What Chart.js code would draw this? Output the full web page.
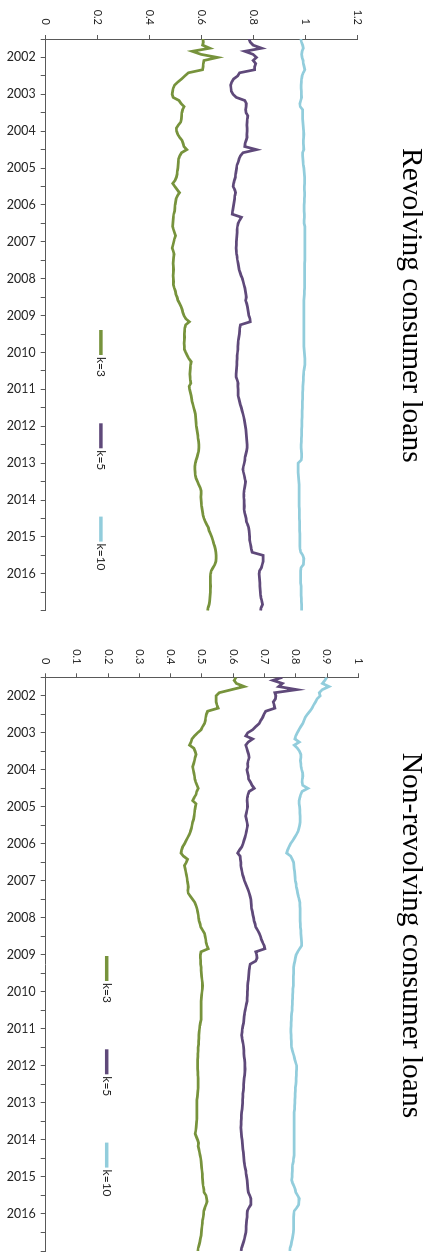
<!DOCTYPE html>
<html>
<head>
<meta charset="utf-8">
<title>Consumer loans</title>
<script src="https://cdn.jsdelivr.net/npm/chart.js@4/dist/chart.umd.min.js"></script>
<style>
  html, body { margin: 0; padding: 0; background: #fff; overflow: hidden; width: 428px; height: 1252px; }
  /* Each chart is laid out landscape, then turned a quarter turn clockwise. */
  .panel { position: absolute; left: 0; height: 428px; transform-origin: 0 0; transform: translate(428px, 0) rotate(90deg); }
  .panel canvas { display: block; }
</style>
</head>
<body>
<div class="panel" style="top:0;width:620px"><canvas id="revolving" width="620" height="428" style="width:620px;height:428px"></canvas></div>
<div class="panel" style="top:620px;width:632px"><canvas id="nonrevolving" width="632" height="428" style="width:632px;height:428px"></canvas></div>
<script>
// Monthly observations, July 2001 to January 2017 (decimal years).
const START_YEAR = 2001.5;
const N_MONTHS = 187;
const months = Array.from({ length: N_MONTHS }, (_, i) => START_YEAR + i / 12);

const seriesNames = ['k=3', 'k=5', 'k=10'];
const seriesColors = ['#77933C', '#5F497A', '#92CDDC'];

// Revolving consumer loans
const revolvingK3 = [
  0.604, 0.606, 0.603, 0.630, 0.563, 0.597, 0.660, 0.608, 0.606, 0.605,
  0.603, 0.548, 0.535, 0.522, 0.508, 0.495, 0.490, 0.488, 0.486, 0.490,
  0.512, 0.520, 0.532, 0.526, 0.523, 0.522, 0.521, 0.519, 0.510, 0.502,
  0.503, 0.507, 0.515, 0.524, 0.528, 0.531, 0.542, 0.522, 0.515, 0.511,
  0.510, 0.509, 0.508, 0.506, 0.505, 0.502, 0.497, 0.488, 0.496, 0.505,
  0.514, 0.506, 0.501, 0.499, 0.497, 0.496, 0.495, 0.492, 0.491, 0.490,
  0.489, 0.488, 0.491, 0.495, 0.499, 0.495, 0.492, 0.489, 0.486, 0.490,
  0.493, 0.492, 0.491, 0.490, 0.491, 0.492, 0.491, 0.490, 0.491, 0.492,
  0.491, 0.494, 0.498, 0.500, 0.505, 0.508, 0.514, 0.520, 0.524, 0.527,
  0.531, 0.538, 0.552, 0.538, 0.535, 0.534, 0.533, 0.534, 0.533, 0.532,
  0.533, 0.533, 0.538, 0.544, 0.550, 0.559, 0.557, 0.556, 0.555, 0.554,
  0.555, 0.556, 0.558, 0.551, 0.553, 0.556, 0.559, 0.561, 0.563, 0.566,
  0.569, 0.572, 0.575, 0.576, 0.577, 0.578, 0.579, 0.581, 0.583, 0.585,
  0.586, 0.588, 0.589, 0.589, 0.588, 0.585, 0.582, 0.578, 0.575, 0.573,
  0.573, 0.574, 0.575, 0.578, 0.583, 0.588, 0.594, 0.597, 0.597, 0.596,
  0.597, 0.598, 0.599, 0.601, 0.603, 0.605, 0.608, 0.613, 0.619, 0.625,
  0.628, 0.633, 0.638, 0.642, 0.645, 0.649, 0.652, 0.654, 0.655, 0.655,
  0.654, 0.650, 0.643, 0.636, 0.634, 0.633, 0.633, 0.633, 0.634, 0.633,
  0.633, 0.632, 0.631, 0.630, 0.628, 0.624, 0.622
];
const revolvingK5 = [
  0.781, 0.786, 0.797, 0.830, 0.765, 0.797, 0.810, 0.797, 0.807, 0.803,
  0.803, 0.745, 0.738, 0.722, 0.715, 0.711, 0.712, 0.713, 0.720, 0.732,
  0.765, 0.771, 0.770, 0.768, 0.770, 0.777, 0.775, 0.774, 0.773, 0.774,
  0.774, 0.773, 0.774, 0.770, 0.766, 0.765, 0.810, 0.758, 0.748, 0.743,
  0.740, 0.735, 0.734, 0.732, 0.730, 0.729, 0.725, 0.722, 0.720, 0.726,
  0.730, 0.727, 0.726, 0.724, 0.722, 0.720, 0.718, 0.717, 0.752, 0.745,
  0.739, 0.737, 0.736, 0.736, 0.735, 0.734, 0.733, 0.733, 0.732, 0.733,
  0.734, 0.736, 0.737, 0.739, 0.741, 0.743, 0.747, 0.751, 0.756, 0.759,
  0.762, 0.765, 0.767, 0.769, 0.771, 0.768, 0.772, 0.775, 0.777, 0.779,
  0.781, 0.785, 0.786, 0.748, 0.746, 0.745, 0.744, 0.742, 0.740, 0.739,
  0.738, 0.738, 0.737, 0.736, 0.736, 0.735, 0.735, 0.734, 0.733, 0.732,
  0.732, 0.736, 0.739, 0.738, 0.739, 0.739, 0.739, 0.742, 0.745, 0.748,
  0.752, 0.755, 0.758, 0.761, 0.763, 0.765, 0.767, 0.769, 0.770, 0.771,
  0.772, 0.773, 0.774, 0.774, 0.772, 0.769, 0.766, 0.765, 0.763, 0.760,
  0.758, 0.760, 0.763, 0.765, 0.768, 0.766, 0.764, 0.762, 0.761, 0.761,
  0.762, 0.762, 0.763, 0.762, 0.764, 0.767, 0.770, 0.771, 0.776, 0.780,
  0.782, 0.783, 0.784, 0.784, 0.786, 0.788, 0.790, 0.793, 0.835, 0.835,
  0.835, 0.832, 0.829, 0.822, 0.820, 0.821, 0.822, 0.823, 0.823, 0.824,
  0.825, 0.826, 0.828, 0.831, 0.833, 0.828, 0.826
];
const revolvingK10 = [
  0.980, 0.983, 0.987, 0.990, 0.985, 0.983, 0.985, 0.989, 0.990, 0.993,
  0.996, 0.990, 0.985, 0.983, 0.982, 0.981, 0.981, 0.982, 0.982, 0.983,
  0.980, 0.977, 0.978, 0.987, 0.987, 0.987, 0.987, 0.988, 0.989, 0.990,
  0.991, 0.992, 0.991, 0.990, 0.990, 0.991, 0.992, 0.987, 0.987, 0.988,
  0.989, 0.990, 0.992, 0.993, 0.994, 0.995, 0.995, 0.995, 0.994, 0.994,
  0.995, 0.995, 0.994, 0.994, 0.993, 0.993, 0.993, 0.994, 0.994, 0.993,
  0.993, 0.996, 0.996, 0.996, 0.996, 0.996, 0.996, 0.996, 0.996, 0.996,
  0.996, 0.996, 0.996, 0.995, 0.995, 0.995, 0.995, 0.995, 0.995, 0.995,
  0.995, 0.995, 0.994, 0.994, 0.993, 0.992, 0.992, 0.992, 0.992, 0.992,
  0.992, 0.992, 0.992, 0.992, 0.992, 0.992, 0.992, 0.992, 0.992, 0.992,
  0.992, 0.993, 0.994, 0.995, 0.996, 0.996, 0.996, 0.994, 0.992, 0.991,
  0.990, 0.990, 0.989, 0.988, 0.988, 0.987, 0.987, 0.987, 0.986, 0.986,
  0.986, 0.985, 0.985, 0.985, 0.984, 0.984, 0.984, 0.983, 0.983, 0.983,
  0.982, 0.982, 0.981, 0.981, 0.982, 0.983, 0.983, 0.982, 0.970, 0.970,
  0.970, 0.970, 0.971, 0.972, 0.973, 0.974, 0.974, 0.974, 0.974, 0.974,
  0.974, 0.974, 0.974, 0.975, 0.975, 0.975, 0.975, 0.976, 0.976, 0.976,
  0.976, 0.977, 0.977, 0.977, 0.977, 0.977, 0.978, 0.980, 0.988, 0.992,
  0.991, 0.990, 0.981, 0.980, 0.980, 0.980, 0.980, 0.980, 0.981, 0.981,
  0.981, 0.981, 0.982, 0.982, 0.983, 0.983, 0.983
];

// Non-revolving consumer loans
const nonRevolvingK3 = [
  0.609, 0.603, 0.610, 0.635, 0.595, 0.555, 0.545, 0.545, 0.545, 0.548,
  0.552, 0.518, 0.514, 0.512, 0.511, 0.508, 0.502, 0.497, 0.486, 0.476,
  0.468, 0.465, 0.460, 0.474, 0.478, 0.481, 0.478, 0.476, 0.473, 0.470,
  0.472, 0.474, 0.476, 0.477, 0.480, 0.484, 0.488, 0.483, 0.481, 0.475,
  0.470, 0.481, 0.479, 0.477, 0.476, 0.475, 0.473, 0.470, 0.468, 0.466,
  0.463, 0.459, 0.454, 0.449, 0.444, 0.438, 0.435, 0.433, 0.441, 0.454,
  0.450, 0.444, 0.446, 0.448, 0.450, 0.452, 0.453, 0.455, 0.456, 0.455,
  0.456, 0.463, 0.470, 0.477, 0.481, 0.484, 0.486, 0.488, 0.489, 0.491,
  0.494, 0.496, 0.502, 0.508, 0.510, 0.512, 0.513, 0.516, 0.520, 0.497,
  0.495, 0.495, 0.496, 0.496, 0.497, 0.497, 0.498, 0.499, 0.500, 0.501,
  0.502, 0.501, 0.500, 0.499, 0.498, 0.497, 0.497, 0.497, 0.497, 0.497,
  0.497, 0.497, 0.495, 0.493, 0.492, 0.491, 0.490, 0.490, 0.489, 0.489,
  0.488, 0.488, 0.487, 0.487, 0.486, 0.486, 0.486, 0.486, 0.487, 0.487,
  0.488, 0.488, 0.488, 0.488, 0.487, 0.486, 0.485, 0.484, 0.484, 0.484,
  0.484, 0.484, 0.484, 0.484, 0.483, 0.482, 0.481, 0.480, 0.478, 0.482,
  0.486, 0.489, 0.488, 0.490, 0.492, 0.494, 0.496, 0.497, 0.498, 0.499,
  0.500, 0.501, 0.501, 0.502, 0.503, 0.504, 0.506, 0.507, 0.513, 0.515,
  0.516, 0.513, 0.509, 0.506, 0.505, 0.504, 0.502, 0.501, 0.500, 0.499,
  0.498, 0.497, 0.495, 0.493, 0.491, 0.488, 0.487
];
const nonRevolvingK5 = [
  0.757, 0.727, 0.757, 0.745, 0.803, 0.733, 0.736, 0.735, 0.728, 0.731,
  0.733, 0.704, 0.698, 0.694, 0.688, 0.683, 0.672, 0.662, 0.646, 0.640,
  0.662, 0.648, 0.640, 0.643, 0.646, 0.649, 0.651, 0.648, 0.646, 0.647,
  0.644, 0.646, 0.648, 0.649, 0.655, 0.660, 0.667, 0.651, 0.647, 0.645,
  0.644, 0.645, 0.646, 0.644, 0.642, 0.640, 0.642, 0.644, 0.646, 0.644,
  0.642, 0.640, 0.637, 0.634, 0.631, 0.627, 0.620, 0.614, 0.622, 0.623,
  0.624, 0.624, 0.626, 0.628, 0.630, 0.633, 0.636, 0.640, 0.644, 0.648,
  0.651, 0.654, 0.656, 0.657, 0.658, 0.659, 0.661, 0.663, 0.665, 0.667,
  0.670, 0.672, 0.678, 0.683, 0.687, 0.690, 0.694, 0.699, 0.701, 0.672,
  0.675, 0.676, 0.672, 0.654, 0.652, 0.651, 0.650, 0.649, 0.648, 0.647,
  0.646, 0.646, 0.645, 0.645, 0.644, 0.644, 0.642, 0.640, 0.638, 0.636,
  0.635, 0.634, 0.633, 0.631, 0.629, 0.628, 0.627, 0.628, 0.630, 0.632,
  0.633, 0.634, 0.634, 0.635, 0.636, 0.637, 0.637, 0.638, 0.637, 0.636,
  0.635, 0.634, 0.633, 0.633, 0.632, 0.631, 0.631, 0.630, 0.630, 0.629,
  0.628, 0.627, 0.626, 0.626, 0.625, 0.625, 0.624, 0.625, 0.626, 0.627,
  0.628, 0.629, 0.630, 0.631, 0.632, 0.633, 0.634, 0.635, 0.636, 0.638,
  0.640, 0.641, 0.643, 0.644, 0.645, 0.646, 0.647, 0.648, 0.653, 0.656,
  0.656, 0.656, 0.650, 0.645, 0.644, 0.644, 0.643, 0.642, 0.641, 0.641,
  0.640, 0.638, 0.636, 0.633, 0.630, 0.627, 0.625
];
const nonRevolvingK10 = [
  0.899, 0.893, 0.885, 0.906, 0.885, 0.875, 0.878, 0.868, 0.863, 0.857,
  0.852, 0.845, 0.837, 0.830, 0.826, 0.822, 0.816, 0.810, 0.805, 0.800,
  0.797, 0.811, 0.795, 0.805, 0.812, 0.816, 0.816, 0.815, 0.816, 0.817,
  0.819, 0.822, 0.823, 0.821, 0.820, 0.822, 0.839, 0.820, 0.816, 0.813,
  0.811, 0.811, 0.812, 0.813, 0.813, 0.814, 0.814, 0.814, 0.812, 0.810,
  0.807, 0.802, 0.796, 0.790, 0.783, 0.778, 0.774, 0.771, 0.784, 0.789,
  0.793, 0.794, 0.795, 0.796, 0.797, 0.798, 0.799, 0.801, 0.802, 0.804,
  0.806, 0.808, 0.811, 0.813, 0.813, 0.814, 0.814, 0.814, 0.814, 0.814,
  0.815, 0.815, 0.816, 0.816, 0.817, 0.818, 0.819, 0.819, 0.812, 0.806,
  0.801, 0.799, 0.797, 0.795, 0.793, 0.793, 0.793, 0.792, 0.792, 0.792,
  0.792, 0.791, 0.791, 0.790, 0.790, 0.789, 0.789, 0.788, 0.788, 0.787,
  0.786, 0.786, 0.785, 0.785, 0.784, 0.784, 0.785, 0.785, 0.786, 0.786,
  0.787, 0.789, 0.792, 0.795, 0.797, 0.800, 0.803, 0.803, 0.802, 0.802,
  0.801, 0.801, 0.800, 0.799, 0.799, 0.798, 0.798, 0.797, 0.797, 0.796,
  0.796, 0.795, 0.795, 0.795, 0.795, 0.795, 0.795, 0.795, 0.795, 0.795,
  0.795, 0.795, 0.795, 0.795, 0.795, 0.795, 0.793, 0.792, 0.790, 0.789,
  0.789, 0.788, 0.788, 0.787, 0.790, 0.794, 0.798, 0.800, 0.806, 0.811,
  0.810, 0.809, 0.803, 0.795, 0.794, 0.793, 0.793, 0.793, 0.793, 0.793,
  0.792, 0.791, 0.789, 0.787, 0.785, 0.782, 0.781
];

const AXIS_COLOR = '#595959';
const TEXT_COLOR = '#262626';

Chart.defaults.font.family = "Lato, 'Open Sans', sans-serif";

// Legend drawn inside the plot area: a short swatch followed by its label.
const inlineLegend = {
  id: 'inlineLegend',
  afterDraw(chart, args, opts) {
    const { ctx, chartArea } = chart;
    ctx.save();
    chart.data.datasets.forEach((ds, i) => {
      const x0 = chartArea.left + opts.dx + i * opts.step;
      const y = chartArea.bottom - opts.dy;
      ctx.strokeStyle = ds.borderColor;
      ctx.lineWidth = 3.5;
      ctx.lineCap = 'butt';
      ctx.beginPath();
      ctx.moveTo(x0, y);
      ctx.lineTo(x0 + opts.swatch, y);
      ctx.stroke();
      ctx.fillStyle = TEXT_COLOR;
      ctx.font = "12px Lato, 'Open Sans', sans-serif";
      ctx.textAlign = 'left';
      ctx.textBaseline = 'middle';
      ctx.fillText(ds.label, x0 + opts.swatch + opts.gap, y);
    });
    ctx.restore();
  }
};

function buildChart(canvasId, p) {
  return new Chart(document.getElementById(canvasId), {
    type: 'line',
    data: {
      labels: months,
      datasets: p.series.map((values, i) => ({
        label: seriesNames[i],
        data: values,
        borderColor: seriesColors[i],
        backgroundColor: seriesColors[i],
        borderWidth: 2.75,
        pointRadius: 0,
        tension: 0,
        fill: false
      }))
    },
    options: {
      responsive: false,
      animation: false,
      devicePixelRatio: 1,
      layout: { padding: { top: 0, right: p.padRight, bottom: 0, left: 0 } },
      plugins: {
        legend: { display: false },
        tooltip: { enabled: false },
        title: {
          display: true,
          text: p.title,
          color: '#000',
          font: { family: "'Liberation Serif', 'Times New Roman', serif", size: 29.5, weight: 'normal' },
          padding: { top: 0, bottom: p.titleGap }
        },
        inlineLegend: { dx: p.legendDx, dy: p.legendDy, step: 93.3, swatch: 25, gap: 2 }
      },
      scales: {
        x: {
          type: 'linear',
          min: START_YEAR,
          max: 2017,
          afterFit: s => { s.height = 45.7; s.paddingLeft = 0; s.paddingRight = 0; },
          border: { display: true, color: AXIS_COLOR, width: 1 },
          grid: { display: true, drawOnChartArea: false, drawTicks: true, tickLength: 5, tickColor: AXIS_COLOR, lineWidth: 1 },
          ticks: {
            stepSize: 0.5,
            autoSkip: false,
            minRotation: 90,
            maxRotation: 90,
            padding: 5,
            color: TEXT_COLOR,
            font: { size: 12.5 },
            callback: v => (Number.isInteger(v) && v < 2017 ? String(v) : '')
          }
        },
        y: {
          min: 0,
          max: p.yMax,
          afterFit: s => { s.width = p.yAxisWidth; s.paddingTop = 0; s.paddingBottom = 0; },
          border: { display: true, color: AXIS_COLOR, width: 1 },
          grid: { display: true, drawOnChartArea: false, drawTicks: true, tickLength: 4, tickColor: AXIS_COLOR, lineWidth: 1 },
          ticks: {
            stepSize: p.yStep,
            padding: p.yPad,
            color: TEXT_COLOR,
            font: { size: 11 },
            callback: v => String(Math.round(v * 10) / 10)
          }
        }
      }
    },
    plugins: [inlineLegend]
  });
}

buildChart('revolving', {
  title: 'Revolving consumer loans',
  series: [revolvingK3, revolvingK5, revolvingK10],
  yMax: 1.2, yStep: 0.2, yAxisWidth: 39, yPad: 10,
  padRight: 9.3, titleGap: 34.6,
  legendDx: 291, legendDy: 55.2
});

buildChart('nonrevolving', {
  title: 'Non-revolving consumer loans',
  series: [nonRevolvingK3, nonRevolvingK5, nonRevolvingK10],
  yMax: 1, yStep: 0.1, yAxisWidth: 57.3, yPad: 8.8,
  padRight: 1, titleGap: 34.3,
  legendDx: 278.7, legendDy: 61
});
</script>
</body>
</html>
